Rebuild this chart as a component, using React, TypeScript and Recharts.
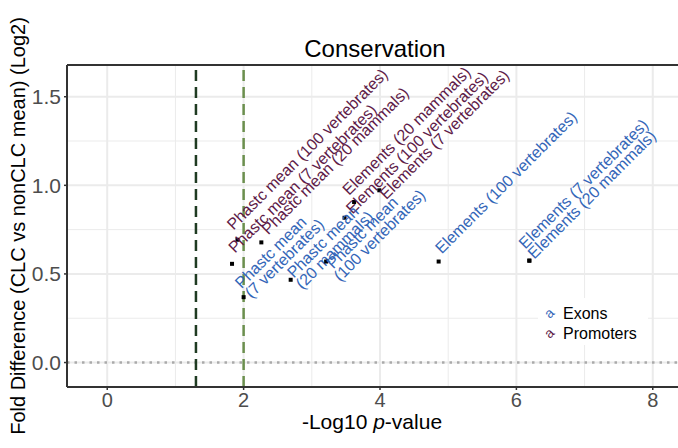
import React from 'react';
import { ScatterChart, Scatter, XAxis, YAxis, ReferenceLine } from 'recharts';

// Exons
const exonLabels = [
  'Phastc mean\n(7 vertebrates)',
  'Phastc mean\n(20 mammals)',
  'Phastc mean\n(100 vertebrates)',
  'Elements (100 vertebrates)',
  'Elements (7 vertebrates)',
  'Elements (20 mammals)',
];
const exonLog10P = [2.0, 2.69, 3.21, 4.86, 6.19, 6.19];
const exonFoldDiff = [0.369, 0.467, 0.57, 0.57, 0.575, 0.575];

// Promoters
const promoterLabels = [
  'Phastc mean (100 vertebrates)',
  'Phastc mean (7 vertebrates)',
  'Phastc mean (20 mammals)',
  'Elements (20 mammals)',
  'Elements (100 vertebrates)',
  'Elements (7 vertebrates)',
];
const promoterLog10P = [1.91, 1.83, 2.26, 3.62, 3.48, 3.99];
const promoterFoldDiff = [0.693, 0.557, 0.678, 0.906, 0.817, 0.972];

const xTicks = [0, 2, 4, 6, 8];
const yTicks = [0, 0.5, 1, 1.5];
const xMinor = [1, 3, 5, 7];
const yMinor = [0.25, 0.75, 1.25];
const pCutoff = 1.301; // -log10(0.05)
const pStrict = 2; // -log10(0.01)

const EXON = '#3366b8';
const PROMOTER = '#5e1b48';
const FONT = '"Liberation Sans", Arial, sans-serif';

// where the repelled labels ended up: px from point to start of first line, + second line shift
const exonNudge = [[-2, -8, 0], [3, -1, -2], [7, 8, -4], [3, -7, 0], [-4, -11, 0], [5, -1, 0]];
const promoterNudge = [[-4, -9, 0], [3, -10, 0], [7, -7, 0], [-5, -6, 0], [8, -3, 0], [7, 10, 0]];

const exons = exonLabels.map((label, i) => ({ x: exonLog10P[i], y: exonFoldDiff[i], label, i }));
const promoters = promoterLabels.map((label, i) => ({ x: promoterLog10P[i], y: promoterFoldDiff[i], label, i }));

function pointWithLabel(color: string, nudge: number[][]) {
  return (props: any) => {
    const { cx, cy, payload } = props;
    const [dx, dy, shift] = nudge[payload.i];
    const x = cx + dx;
    const y = cy + dy;
    const lines = payload.label.split('\n');
    return (
      <g>
        <rect x={cx - 2} y={cy - 2} width={4} height={4} fill="#000" />
        <text transform={`rotate(-45 ${x} ${y})`} x={x} y={y} fill={color} fontSize={16} fontFamily={FONT}>
          {lines.map((l: string, k: number) => (
            <tspan key={k} x={x + (k ? shift : 0)} dy={k ? 14 : 0}>
              {l}
            </tspan>
          ))}
        </text>
      </g>
    );
  };
}

export default function App() {
  return (
    <div style={{ position: 'relative', width: 678, height: 448, background: '#fff', fontFamily: FONT }}>
      <style>{'body{margin:0}'}</style>
      <ScatterChart width={678} height={448} margin={{ top: 65, right: 0, bottom: 0, left: 0 }}>
        {xMinor.map((v) => (
          <ReferenceLine key={'xm' + v} x={v} stroke="#ebebeb" strokeWidth={1} />
        ))}
        {yMinor.map((v) => (
          <ReferenceLine key={'ym' + v} y={v} stroke="#ebebeb" strokeWidth={1} />
        ))}
        {xTicks.map((v) => (
          <ReferenceLine key={'xM' + v} x={v} stroke="#ebebeb" strokeWidth={2} />
        ))}
        {yTicks.map((v) => (
          <ReferenceLine key={'yM' + v} y={v} stroke="#ebebeb" strokeWidth={2} />
        ))}
        <ReferenceLine y={0} stroke="#aaaaaa" strokeWidth={2.5} strokeDasharray="2.5 5" />
        <ReferenceLine x={pCutoff} stroke="#1f3b22" strokeWidth={2.5} strokeDasharray="11 6" />
        <ReferenceLine x={pStrict} stroke="#6b8f4e" strokeWidth={2.5} strokeDasharray="11 6" />
        <ReferenceLine y={1.679} stroke="#333" strokeWidth={2} />
        <XAxis
          type="number"
          dataKey="x"
          domain={[-0.59, 8.37]}
          ticks={xTicks}
          allowDataOverflow
          height={61}
          tickSize={3}
          tickMargin={3}
          axisLine={{ stroke: '#333', strokeWidth: 2 }}
          tickLine={{ stroke: '#333', strokeWidth: 1.5 }}
          tick={{ fill: '#4d4d4d', fontSize: 20, fontFamily: FONT }}
        />
        <YAxis
          type="number"
          dataKey="y"
          domain={[-0.138, 1.679]}
          ticks={yTicks}
          allowDataOverflow
          width={67}
          tickSize={3}
          tickMargin={3}
          tickFormatter={(v: number) => v.toFixed(1)}
          axisLine={{ stroke: '#333', strokeWidth: 2 }}
          tickLine={{ stroke: '#333', strokeWidth: 1.5 }}
          tick={{ fill: '#4d4d4d', fontSize: 21, fontFamily: FONT }}
        />
        <Scatter name="Promoters" data={promoters} shape={pointWithLabel(PROMOTER, promoterNudge)} isAnimationActive={false} />
        <Scatter name="Exons" data={exons} shape={pointWithLabel(EXON, exonNudge)} isAnimationActive={false} />
      </ScatterChart>
      <svg width={678} height={448} style={{ position: 'absolute', left: 0, top: 0, pointerEvents: 'none' }}>
        <text x={375} y={57} textAnchor="middle" fontSize={24} fill="#000">
          Conservation
        </text>
        <text x={372} y={429} textAnchor="middle" fontSize={21} fill="#000">
          -Log10 <tspan fontStyle="italic">p</tspan>-value
        </text>
        <text transform="rotate(-90 25 226)" x={25} y={226} textAnchor="middle" fontSize={20} fill="#000">
          Fold Difference (CLC vs nonCLC mean) (Log2)
        </text>
        <rect x={538} y={298} width={110} height={47} fill="#fff" />
        <text transform="rotate(-45 549 313)" x={549} y={313} textAnchor="middle" dominantBaseline="central" fontSize={14} fill={EXON}>
          a
        </text>
        <text x={563} y={319} fontSize={16} fill="#000">
          Exons
        </text>
        <text transform="rotate(-45 549 333)" x={549} y={333} textAnchor="middle" dominantBaseline="central" fontSize={14} fill={PROMOTER}>
          a
        </text>
        <text x={563} y={339} fontSize={16} fill="#000">
          Promoters
        </text>
      </svg>
    </div>
  );
}
